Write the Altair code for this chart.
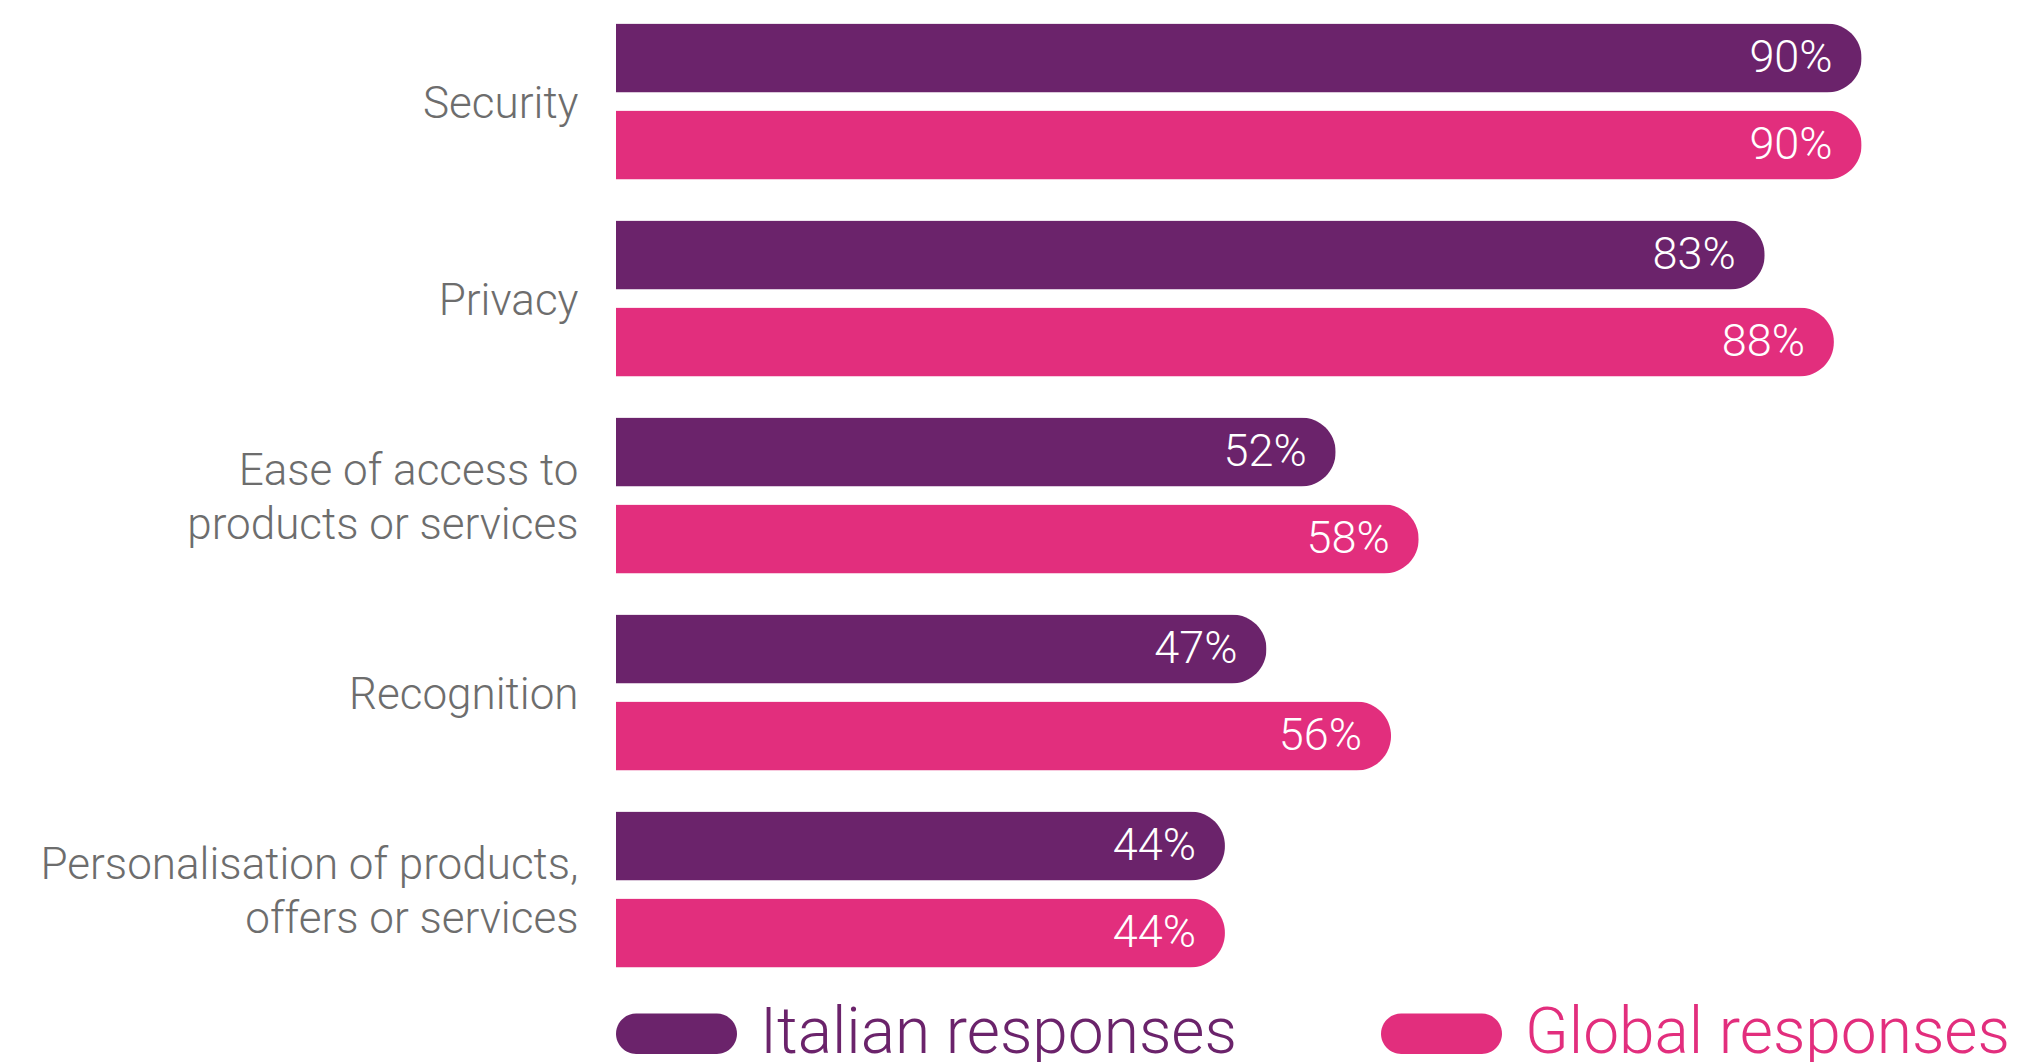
import altair as alt
import pandas as pd

categories = ["Security", "Privacy", "Ease of access to|products or services",
              "Recognition", "Personalisation of products,|offers or services"]
series = ["Italian responses", "Global responses"]
italian = [90, 83, 52, 47, 44]
global_ = [90, 88, 58, 56, 44]
colors = ["#6B236B", "#E22E7D"]

rows = []
for c, a, b in zip(categories, italian, global_):
    rows.append({"category": c, "series": series[0], "value": a})
    rows.append({"category": c, "series": series[1], "value": b})
df = pd.DataFrame(rows)
df["label"] = df["value"].astype(str) + "%"

FONT = "Roboto"
pill = "M -0.667 -0.333 L 0.667 -0.333 A 0.333 0.333 0 0 1 0.667 0.333 L -0.667 0.333 A 0.333 0.333 0 0 1 -0.667 -0.333 Z"

y = alt.Y("category:N", sort=categories, title=None,
          scale=alt.Scale(paddingInner=0.208, paddingOuter=0.104),
          axis=alt.Axis(labelExpr="split(datum.label, '|')", labelFontSize=44,
                        labelFont=FONT, labelFontWeight=300, labelColor="#6D6D6D",
                        labelPadding=38, labelLineHeight=54, labelLimit=700,
                        labelOffset={"expr": "indexof(datum.label, '|') >= 0 ? -24 : 3"},
                        ticks=False, domain=False, labelAlign="right"))
yoff = alt.YOffset("series:N", sort=series, scale=alt.Scale(paddingInner=0.207, paddingOuter=0))
x = alt.X("value:Q", scale=alt.Scale(domain=[0, 100]), axis=None)

bars = alt.Chart(df).mark_bar(cornerRadiusEnd=34.5).encode(
    x=x, y=y, yOffset=yoff,
    color=alt.Color("series:N", sort=series,
                    scale=alt.Scale(domain=series, range=colors),
                    legend=alt.Legend(title=None, orient="none", legendX=0, legendY=970,
                                      direction="horizontal", symbolType=pill,
                                      symbolSize=14641, symbolStrokeWidth=0,
                                      labelFontSize=64, labelFont=FONT, labelFontWeight=300,
                                      labelOffset=23, columnPadding=143, labelLimit=900,
                                      labelColor={"expr": "datum.value == 'Italian responses' ? '#6B236B' : '#E22E7D'"}))
)

text = alt.Chart(df).mark_text(align="right", baseline="middle", dx=-29, color="white",
                               fontSize=45, font=FONT, fontWeight=300).encode(
    x=x, y=y, yOffset=yoff, text="label:N"
)

chart = (bars + text).properties(
    width=1384, height=985,
    autosize=alt.AutoSizeParams(type="none"),
    padding={"left": 616, "top": 3, "right": 19, "bottom": 74},
    background="white",
).configure_view(stroke=None)

chart.save("out.html", embed_options={"renderer": "svg", "actions": False})
